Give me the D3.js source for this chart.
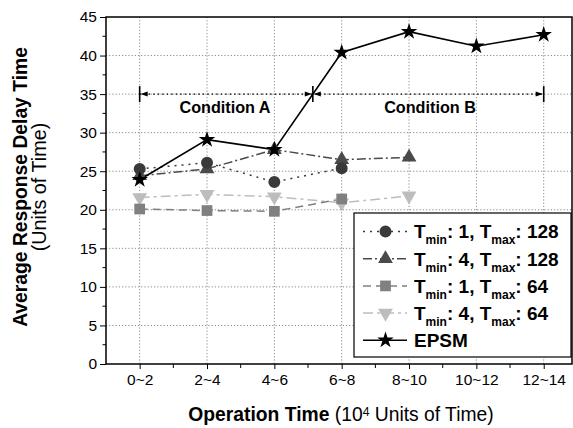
<!DOCTYPE html>
<html><head><meta charset="utf-8">
<script src="https://cdn.jsdelivr.net/npm/d3@7"></script>
<style>
body{margin:0;background:#fff;}
text{font-family:"Liberation Sans",Arimo,Arial,sans-serif;}
</style></head>
<body><svg id="c" width="573" height="428"></svg>
<script>
const categories = ["0~2","2~4","4~6","6~8","8~10","10~12","12~14"];
const yTicks = [0,5,10,15,20,25,30,35,40,45];
const s1 = [25.3, 26.1, 23.6, 25.4];              // Tmin 1, Tmax 128
const s2 = [24.4, 25.3, 27.8, 26.5, 26.8];        // Tmin 4, Tmax 128
const s3 = [20.1, 19.9, 19.8, 21.4];              // Tmin 1, Tmax 64
const s4 = [21.6, 22.0, 21.7, 20.9, 21.8];        // Tmin 4, Tmax 64
const epsm = [23.9, 29.1, 27.8, 40.4, 43.1, 41.2, 42.7];
const conditionLevel = 35;
const conditionLabels = ["Condition A", "Condition B"];

const svg = d3.select("#c");
const L=106, R=572, T=17, B=364;
const x = d3.scaleLinear().domain([-0.5, 6.42]).range([L, R]);
const y = d3.scaleLinear().domain([0, 45]).range([B, T]);

// grid
const grid = svg.append("g").attr("stroke","#8a8a8a").attr("stroke-dasharray","1.2,2").attr("stroke-width",1);
yTicks.filter(v=>v>0 && v<45).forEach(v=>{
  grid.append("line").attr("x1",L).attr("x2",R).attr("y1",y(v)).attr("y2",y(v));
});
categories.forEach((c,i)=>{
  grid.append("line").attr("x1",x(i)).attr("x2",x(i)).attr("y1",T).attr("y2",B);
});

// axes
const yAxis = d3.axisLeft(y).tickValues(yTicks).tickSize(6).tickPadding(3);
const gy = svg.append("g").attr("transform",`translate(${L},0)`).call(yAxis);
gy.attr("font-family",null);
gy.selectAll("text").attr("font-size",15.5).attr("fill","#000");
gy.select(".domain").remove();
const yMinor = d3.range(2.5, 45, 5);
gy.selectAll(".minor").data(yMinor).enter().append("line")
  .attr("x1",-3.5).attr("x2",0).attr("y1",d=>y(d)).attr("y2",d=>y(d)).attr("stroke","#000");

const xAxis = d3.axisBottom(x).tickValues(d3.range(categories.length)).tickFormat(i=>categories[i]).tickSize(5).tickPadding(5);
const gx = svg.append("g").attr("transform",`translate(0,${B})`).call(xAxis);
gx.attr("font-family",null);
gx.selectAll("text").attr("font-size",15.5).attr("fill","#000");
gx.select(".domain").remove();
gx.selectAll(".minor").data([0.5,1.5,2.5,3.5,4.5,5.5]).enter().append("line")
  .attr("x1",d=>x(d)).attr("x2",d=>x(d)).attr("y1",0).attr("y2",4).attr("stroke","#000");

// frame
svg.append("rect").attr("x",L).attr("y",T).attr("width",R-L).attr("height",B-T)
  .attr("fill","none").attr("stroke","#000").attr("stroke-width",1.5);

// series
const series = [
  {name:"s4", data:s4, color:"#bdbdbd", dash:"10,4,3,4", sym:d3.symbolTriangle, size:95, rot:180, w:1.5},
  {name:"s3", data:s3, color:"#808080", dash:"8,5", sym:d3.symbolSquare, size:115, rot:0, w:1.5},
  {name:"s2", data:s2, color:"#4a4a4a", dash:"9,3,2,3", sym:d3.symbolTriangle, size:95, rot:0, w:1.5},
  {name:"s1", data:s1, color:"#3a3a3a", dash:"2,5", sym:d3.symbolCircle, size:113, rot:0, w:1.5},
  {name:"epsm", data:epsm, color:"#000", dash:null, sym:d3.symbolStar, size:85, rot:0, w:1.6}
];
const line = d3.line().x((d,i)=>x(i)).y(d=>y(d));
series.forEach(s=>{
  svg.append("path").attr("d",line(s.data)).attr("fill","none").attr("stroke",s.color)
    .attr("stroke-width",s.w).attr("stroke-dasharray",s.dash);
});
series.forEach(s=>{
  svg.selectAll(null).data(s.data).enter().append("path")
    .attr("d",d3.symbol(s.sym,s.size))
    .attr("transform",(d,i)=>`translate(${x(i)},${y(d)}) rotate(${s.rot})`)
    .attr("fill",s.color);
});

// condition annotation
const cy = y(conditionLevel);
let cross = 2.5;
for(let i=0;i<epsm.length-1;i++){
  if(epsm[i]<conditionLevel && epsm[i+1]>=conditionLevel){
    cross = i + (conditionLevel-epsm[i])/(epsm[i+1]-epsm[i]);
  }
}
const xa = x(0), xm = x(cross), xb = x(categories.length-1);
svg.append("line").attr("x1",xa).attr("x2",xb).attr("y1",cy).attr("y2",cy)
  .attr("stroke","#000").attr("stroke-dasharray","1.5,3").attr("stroke-width",1.2);
[xa,xm,xb].forEach(xx=>{
  svg.append("line").attr("x1",xx).attr("x2",xx).attr("y1",cy-8).attr("y2",cy+8)
    .attr("stroke","#000").attr("stroke-width",1.6);
});
function arrow(tip, dir){
  const b = tip - dir*7;
  svg.append("path").attr("d",`M${tip},${cy}L${b},${cy-2.5}L${b},${cy+2.5}Z`).attr("fill","#000");
}
arrow(xa+1,-1); arrow(xm-1,1); arrow(xm+1,-1); arrow(xb-1,1);
svg.append("text").attr("x",225).attr("y",112.5).attr("text-anchor","middle")
  .attr("font-size",16.2).attr("font-weight","bold").text(conditionLabels[0]);
svg.append("text").attr("x",430).attr("y",112.5).attr("text-anchor","middle")
  .attr("font-size",16.2).attr("font-weight","bold").text(conditionLabels[1]);

// legend
const lg = svg.append("g");
lg.append("rect").attr("x",354).attr("y",213).attr("width",217).attr("height",144)
  .attr("fill","#fff").attr("stroke","#000").attr("stroke-width",1.2);
const legendItems = [
  {s:series[3], parts:[["T",""],["min","sub"],[": 1, T",""],["max","sub"],[": 128",""]]},
  {s:series[2], parts:[["T",""],["min","sub"],[": 4, T",""],["max","sub"],[": 128",""]]},
  {s:series[1], parts:[["T",""],["min","sub"],[": 1, T",""],["max","sub"],[": 64",""]]},
  {s:series[0], parts:[["T",""],["min","sub"],[": 4, T",""],["max","sub"],[": 64",""]]},
  {s:series[4], parts:[["EPSM",""]]}
];
legendItems.forEach((it,k)=>{
  const ry = 231.5 + k*27.2;
  lg.append("line").attr("x1",363).attr("x2",407).attr("y1",ry).attr("y2",ry)
    .attr("stroke",it.s.color).attr("stroke-width",it.s.w).attr("stroke-dasharray",it.s.dash);
  lg.append("path").attr("d",d3.symbol(it.s.sym,it.s.size))
    .attr("transform",`translate(385.5,${ry}) rotate(${it.s.rot})`).attr("fill",it.s.color);
  const t = lg.append("text").attr("x",414).attr("y",ry+6.8).attr("font-size",19).attr("font-weight","bold");
  it.parts.forEach((p,j)=>{
    const ts = t.append("tspan").text(p[0]);
    if(p[1]==="sub") ts.attr("font-size",12).attr("dy",6);
    else if(j>0) ts.attr("dy",-6);
  });
});

// axis titles
svg.append("text").attr("transform","translate(27,187) rotate(-90)").attr("text-anchor","middle")
  .attr("font-size",19.3).attr("font-weight","bold").text("Average Response Delay Time");
svg.append("text").attr("transform","translate(46,187) rotate(-90)").attr("text-anchor","middle")
  .attr("font-size",19.8).text("(Units of Time)");
const xt = svg.append("text").attr("x",341).attr("y",421).attr("text-anchor","middle").attr("font-size",19.3);
xt.append("tspan").attr("font-weight","bold").text("Operation Time");
xt.append("tspan").text(" (10");
xt.append("tspan").attr("font-size","0.63em").attr("dy","-0.45em").text("4");
xt.append("tspan").attr("dy","0.285em").text(" Units of Time)");
</script></body></html>
